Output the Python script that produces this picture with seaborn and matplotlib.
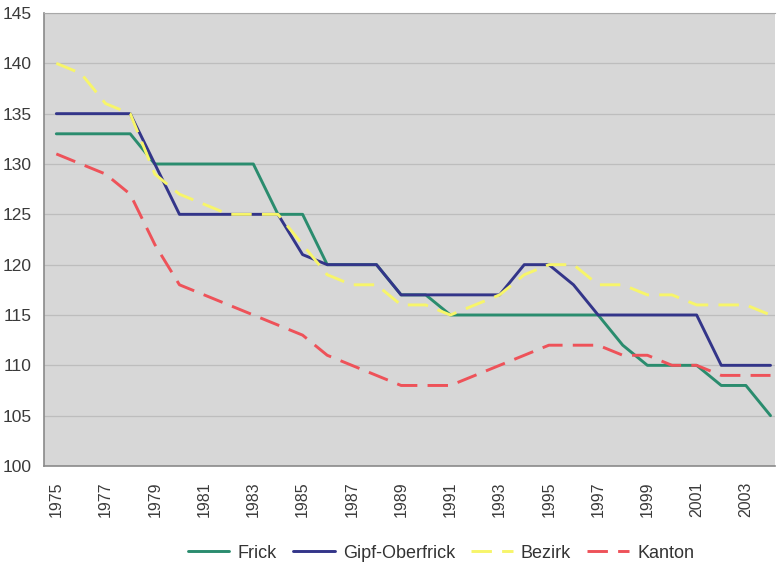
import numpy as np
import pandas as pd
import matplotlib
matplotlib.use("Agg")
import matplotlib.pyplot as plt
import seaborn as sns

years = list(range(1975, 2005))
frick = [133, 133, 133, 133, 130, 130, 130, 130, 130, 125, 125, 120, 120, 120, 117,
         117, 115, 115, 115, 115, 115, 115, 115, 112, 110, 110, 110, 108, 108, 105]
gipf = [135, 135, 135, 135, 130, 125, 125, 125, 125, 125, 121, 120, 120, 120, 117,
        117, 117, 117, 117, 120, 120, 118, 115, 115, 115, 115, 115, 110, 110, 110]
bezirk = [140, 139, 136, 135, 129, 127, 126, 125, 125, 125, 122, 119, 118, 118, 116,
          116, 115, 116, 117, 119, 120, 120, 118, 118, 117, 117, 116, 116, 116, 115]
kanton = [131, 130, 129, 127, 122, 118, 117, 116, 115, 114, 113, 111, 110, 109, 108,
          108, 108, 109, 110, 111, 112, 112, 112, 111, 111, 110, 110, 109, 109, 109]
series_names = ["Frick", "Gipf-Oberfrick", "Bezirk", "Kanton"]
xtick_years = list(range(1975, 2004, 2))
yticks = list(range(100, 146, 5))

df = pd.DataFrame({
    "Jahr": years * 4,
    "Wert": frick + gipf + bezirk + kanton,
    "Serie": sum([[n] * len(years) for n in series_names], []),
})

sns.set_style("white")
plt.rcParams["font.family"] = ["Liberation Sans", "DejaVu Sans"]

colors = {"Frick": "#2a8c6e", "Gipf-Oberfrick": "#333589",
          "Bezirk": "#f7f56a", "Kanton": "#ee5259"}
dashes = {"Frick": "", "Gipf-Oberfrick": "", "Bezirk": (7, 3.5), "Kanton": (7, 3.5)}

fig = plt.figure(figsize=(7.77, 5.66), dpi=100)
ax = fig.add_axes([44 / 777, 1 - 466 / 566, 1 - 44 / 777 - 0.002, (466 - 13) / 566])
ax.set_facecolor("#d7d7d7")

sns.lineplot(data=df, x="Jahr", y="Wert", hue="Serie", style="Serie",
             hue_order=series_names, style_order=series_names,
             palette=colors, dashes=dashes, linewidth=2.1, ax=ax, legend=True)

ax.set_xlim(1974.5, 2004.2)
ax.set_ylim(100, 145)
ax.set_yticks(yticks)
ax.set_xticks(xtick_years)
ax.set_xticklabels([str(y) for y in xtick_years], rotation=90)
ax.yaxis.grid(True, color="#bdbdbd", linewidth=0.9)
ax.set_axisbelow(True)
ax.tick_params(axis="both", length=0, colors="#3a3a3a")
ax.tick_params(axis="x", pad=11, labelsize=11.5)
ax.tick_params(axis="y", pad=9, labelsize=12.5)
ax.set_xlabel("")
ax.set_ylabel("")
for s in ["left", "bottom"]:
    ax.spines[s].set_color("#8a8a8a")
    ax.spines[s].set_linewidth(1.2)
ax.spines["top"].set_color("#a8a8a8")
ax.spines["top"].set_linewidth(0.8)
ax.spines["right"].set_visible(False)

handles, labels = ax.get_legend_handles_labels()
ax.get_legend().remove()
fig.legend(handles, labels, loc="center", bbox_to_anchor=(441 / 777, 1 - 553 / 566),
           ncol=4, frameon=False, fontsize=13, handlelength=2.3, handletextpad=0.45,
           columnspacing=0.9, labelcolor="#333333")

fig.savefig("out.png", dpi=100)
